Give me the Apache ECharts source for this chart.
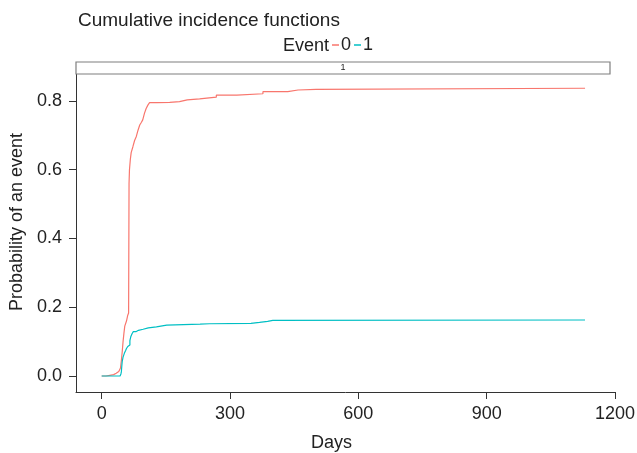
<!DOCTYPE html>
<html>
<head>
<meta charset="utf-8">
<script src="https://cdn.jsdelivr.net/npm/echarts@6/dist/echarts.min.js"></script>
<style>html,body{margin:0;padding:0;background:#fff}#c{width:637px;height:453px}</style>
</head>
<body>
<div id="c"></div>
<script>
const xTicks = [0, 300, 600, 900, 1200];
const yTicks = [0, 0.2, 0.4, 0.6, 0.8];
const legendNames = ['0', '1'];

const event0Days = [0, 10, 19, 28, 34, 40, 44, 46, 48, 50, 52, 54, 58, 61, 63, 64, 65, 67, 69, 73, 77, 81, 85, 89, 93, 96, 100, 104, 108, 112, 130, 159, 182, 200, 229, 268, 316, 377, 435, 459, 501, 1130];
const event0Prob = [0, 0.002, 0.004, 0.008, 0.013, 0.018, 0.023, 0.045, 0.07, 0.1, 0.124, 0.145, 0.16, 0.177, 0.183, 0.56, 0.6, 0.63, 0.65, 0.667, 0.685, 0.697, 0.715, 0.73, 0.738, 0.745, 0.764, 0.778, 0.788, 0.795, 0.796, 0.798, 0.803, 0.806, 0.811, 0.817, 0.821, 0.827, 0.832, 0.834, 0.837, 0.837];

const event1Days = [0, 43, 45, 46, 47, 48, 50, 53, 56, 58, 61, 64, 66, 68, 71, 74, 80, 86, 97, 109, 128, 152, 230, 252, 349, 369, 388, 400, 1130];
const event1Prob = [0, 0, 0.006, 0.012, 0.028, 0.042, 0.055, 0.066, 0.074, 0.08, 0.086, 0.09, 0.103, 0.114, 0.123, 0.129, 0.133, 0.136, 0.14, 0.143, 0.148, 0.151, 0.152, 0.153, 0.156, 0.159, 0.162, 0.163, 0.163];

const pairs = (xs, ys) => xs.map((x, i) => [x, ys[i]]);

const FONT = 'Liberation Sans, Arial, sans-serif';
const AX = '#333333';

const chart = echarts.init(document.getElementById('c'), null, {renderer: 'canvas'});
chart.setOption({
  animation: false,
  backgroundColor: '#ffffff',
  textStyle: {fontFamily: FONT},
  title: {
    text: 'Cumulative incidence functions',
    left: 73, top: 6,
    textStyle: {fontFamily: FONT, fontSize: 19, fontWeight: 'normal', color: '#222'}
  },
  legend: {
    data: legendNames,
    left: 332, top: 36,
    icon: 'rect', itemWidth: 7, itemHeight: 1.5, itemGap: 3,
    padding: 0,
    textStyle: {fontFamily: FONT, fontSize: 18, color: '#222', padding: [0, 0, 0, -3]}
  },
  grid: {left: 76, top: 74, width: 539, height: 318, outerBoundsMode: 'none'},
  xAxis: {
    type: 'value', min: -60, max: 1200,
    name: 'Days', nameLocation: 'middle', nameGap: 42,
    nameTextStyle: {fontFamily: FONT, fontSize: 18, color: '#222', padding: [0, 28, 0, 0]},
    axisLine: {show: true, onZero: false, lineStyle: {color: AX, width: 1}},
    axisTick: {show: true, length: 7, customValues: xTicks, lineStyle: {color: AX}},
    axisLabel: {customValues: xTicks, fontSize: 18, color: '#222', margin: 13, fontFamily: FONT,
      formatter: v => String(v)},
    splitLine: {show: false}
  },
  yAxis: {
    type: 'value', min: -0.0465, max: 0.8785,
    name: 'Probability of an event', nameLocation: 'middle', nameGap: 50,
    nameTextStyle: {fontFamily: FONT, fontSize: 18, color: '#222', padding: [0, 0, 0, 22]},
    axisLine: {show: true, onZero: false, lineStyle: {color: AX, width: 1}},
    axisTick: {show: true, length: 7, customValues: yTicks, lineStyle: {color: AX}},
    axisLabel: {customValues: yTicks, fontSize: 18, color: '#222', margin: 14, fontFamily: FONT,
      formatter: v => v.toFixed(1)},
    splitLine: {show: false}
  },
  graphic: [
    {type: 'rect', shape: {x: 76, y: 62, width: 534, height: 12},
     style: {fill: '#ffffff', stroke: '#7f7f7f', lineWidth: 1.2}, z: 10},
    {type: 'text', x: 343, y: 68,
     style: {text: '1', font: '9px ' + FONT, fill: '#222', align: 'center', verticalAlign: 'middle'}, z: 11},
    {type: 'text', x: 329, y: 46,
     style: {text: 'Event', font: '18px ' + FONT, fill: '#222', align: 'right', verticalAlign: 'middle'}, z: 11}
  ],
  series: [
    {name: legendNames[0], type: 'line', step: 'end', showSymbol: false, symbol: 'none',
     data: pairs(event0Days, event0Prob), lineStyle: {color: '#F8766D', width: 1.2}, itemStyle: {color: '#F8766D'}},
    {name: legendNames[1], type: 'line', step: 'end', showSymbol: false, symbol: 'none',
     data: pairs(event1Days, event1Prob), lineStyle: {color: '#00BFC4', width: 1.2}, itemStyle: {color: '#00BFC4'}}
  ]
});
</script>
</body>
</html>
